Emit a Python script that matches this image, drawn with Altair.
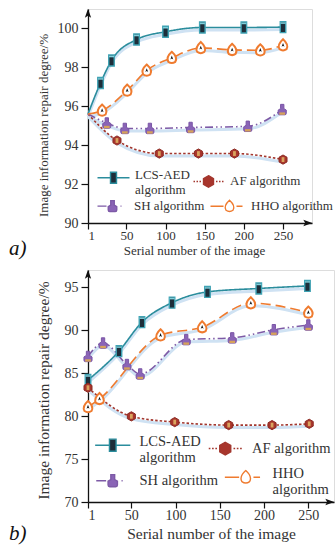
import re
import altair as alt
import pandas as pd

SERIES = ["LCS-AED algorithm", "AF algorithm", "SH algorithm", "HHO algorithm"]
LEGEND_ROW1 = ["LCS-AED algorithm", "AF algorithm"]
LEGEND_ROW2 = ["SH algorithm", "HHO algorithm"]
X_TICKS = [1, 50, 100, 150, 200, 250]

# ---------- panel a) ----------
A_START = [1, 95.6]
A_LCS_X = [17, 31, 63, 100, 147, 200, 250]
A_LCS_Y = [97.2, 98.35, 99.43, 99.83, 100.05, 100.05, 100.07]
A_AF_X = [38, 92, 142, 188, 250]
A_AF_Y = [94.24, 93.57, 93.57, 93.57, 93.26]
A_SH_X = [25, 48, 80, 132, 205, 249]
A_SH_Y = [95.14, 94.86, 94.86, 94.91, 94.97, 95.83]
A_HHO_X = [19, 51, 76, 108, 145, 185, 221, 250]
A_HHO_Y = [95.78, 96.81, 97.84, 98.49, 99.0, 98.9, 98.88, 99.14]
A_Y_TICKS = [90, 92, 94, 96, 98, 100]

# ---------- panel b) ----------
B_LCS_X = [1, 36, 62, 96, 136, 194, 249]
B_LCS_Y = [84.2, 87.56, 90.93, 93.2, 94.45, 94.85, 95.15]
B_AF_X = [1, 50, 99, 160, 209, 251]
B_AF_Y = [83.3, 79.97, 79.3, 78.95, 78.95, 79.1]
B_SH_X = [1, 18, 45, 60, 112, 164, 211, 250]
B_SH_Y = [86.94, 88.5, 86.0, 84.9, 88.9, 89.1, 90.05, 90.6]
B_HHO_X = [1, 14, 83, 130, 185, 250]
B_HHO_Y = [81.05, 82.0, 89.4, 90.35, 93.14, 92.05]
B_Y_TICKS = [70, 75, 80, 85, 90, 95]

FONT = "Liberation Serif"
TXT = "#333333"

STYLE = {
    "LCS-AED algorithm": dict(line="#2b8d9d", dash=[1, 0], fill="#1e2e3a", stroke="#3fa3b4", sw=1.4,
                              path="M-0.55,-1.1L0.55,-1.1L0.55,1.1L-0.55,1.1Z", size=100,
                              inner="#7fd0dc", ipath="M-0.5,-0.15L0.5,-0.15L0.5,0.15L-0.5,0.15Z", isize=100, idy=-4),
    "AF algorithm": dict(line="#a3372e", dash=[2.5, 2], fill="#a8352c", stroke="#8c2a22", sw=1,
                         path="M0,-1.15L1,-0.58L1,0.58L0,1.15L-1,0.58L-1,-0.58Z", size=64,
                         inner="#d9a45e", ipath="M-0.35,-0.6L0.35,-0.6L0.35,0.6L-0.35,0.6Z", isize=64, idy=0),
    "SH algorithm": dict(line="#7d5aa6", dash=[8, 3, 1.5, 3, 1.5, 3], fill="#8a64b6", stroke="#7a55a6", sw=1,
                         path="M-0.35,-1.1L0.35,-1.1L0.35,-0.2L0.85,0.1L0.85,0.8Q0.85,1.1 0.55,1.1L-0.55,1.1Q-0.85,1.1 -0.85,0.8L-0.85,0.1L-0.35,-0.2Z",
                         size=90, inner="#d6a25a", ipath="M-0.6,-0.25L0.6,-0.25L0.6,0.25L-0.6,0.25Z", isize=90, idy=4),
    "HHO algorithm": dict(line="#ef7b2f", dash=[10, 5], fill="#ffffff", stroke="#ef7b2f", sw=2,
                          path="M0,-1.2C0.9,-0.4 1,0.3 0.7,0.8Q0,1.3 -0.7,0.8C-1,0.3 -0.9,-0.4 0,-1.2Z", size=100,
                          inner="#111111", ipath="M0,-0.7L0.45,0.5L0,0.2L-0.45,0.5Z", isize=40, idy=0),
}

LEGEND_PATHS = {
    "LCS-AED algorithm": "M-3.2,0L-0.6,0M0.6,0L3.2,0M-0.6,-1.1L0.6,-1.1L0.6,1.1L-0.6,1.1Z",
    "AF algorithm": "M-3,0L-2.7,0M-2.4,0L-2.1,0M-1.8,0L-1.5,0M1.5,0L1.8,0M2.1,0L2.4,0M2.7,0L3,0M0,-1.15L1,-0.58L1,0.58L0,1.15L-1,0.58L-1,-0.58Z",
    "SH algorithm": "M-3,0L-1.2,0M1.6,0L1.8,0M-0.35,-1.1L0.35,-1.1L0.35,-0.2L0.85,0.1L0.85,0.8Q0.85,1.1 0.55,1.1L-0.55,1.1Q-0.85,1.1 -0.85,0.8L-0.85,0.1L-0.35,-0.2Z",
    "HHO algorithm": "M-3.8,0L-1.2,0M1.4,0L2.6,0M0,-1.2C0.9,-0.4 1,0.3 0.7,0.8Q0,1.3 -0.7,0.8C-1,0.3 -0.9,-0.4 0,-1.2Z",
}


def shift_path(path, dy):
    """Move a symbol path down by dy (unit coordinates)."""
    def rep(m):
        return f"{m.group(1)},{float(m.group(2)) + dy:.3f}"
    return re.sub(r"(-?\d*\.?\d+),(-?\d*\.?\d+)", rep, path)


def build_frame(series_xy, start=None):
    rows = []
    for name, (xs, ys) in series_xy.items():
        if start is not None:
            rows.append({"x": start[0], "y": start[1], "series": name, "marker": False})
        for x, y in zip(xs, ys):
            rows.append({"x": x, "y": y, "series": name, "marker": True})
    return pd.DataFrame(rows)


def panel(df, xmax, ymin, ymax, yticks, width, height, title_fs, legend_fs, sym_size, legs,
          letter, letter_y, xtitle_x, xtitle_y, ytitle_y, multiline_hho, xlab_fs, sym_shift):
    xs = alt.Scale(domain=[1, xmax], nice=False, zero=False)
    ys = alt.Scale(domain=[ymin, ymax], nice=False, zero=False)
    x_axis = alt.Axis(
        values=X_TICKS, title="Serial number of the image", grid=False,
        domainColor="#111", domainWidth=1.3, tickColor="#111", tickSize=6, tickWidth=1.2,
        labelFont=FONT, labelFontSize=xlab_fs, labelColor=TXT, labelPadding=0,
        titleFont=FONT, titleFontSize=title_fs, titleFontWeight="normal", titleColor=TXT,
        titleX=xtitle_x, titleY=xtitle_y, titleBaseline="middle", titleAlign="center")
    y_axis = alt.Axis(
        values=yticks, title="Image information repair degree/%", grid=False,
        domainColor="#111", domainWidth=1.3, tickColor="#111", tickSize=7, tickWidth=1.2,
        labelFont=FONT, labelFontSize=14, labelColor=TXT, labelPadding=3,
        titleFont=FONT, titleFontSize=title_fs, titleFontWeight="normal", titleColor=TXT,
        titleX=-45, titleY=ytitle_y, titleBaseline="middle", titleAlign="center")

    def X():
        return alt.X("x:Q", scale=xs, axis=x_axis)

    def Y():
        return alt.Y("y:Q", scale=ys, axis=y_axis)

    base = alt.Chart(df)
    layers = []

    # pale shadow lines
    layers.append(
        base.mark_line(interpolate="monotone", color="#cfe2f3", strokeWidth=3, yOffset=2.5).encode(
            x=X(), y=Y(), detail="series:N")
    )
    for name in SERIES:
        st = STYLE[name]
        sub = base.transform_filter(alt.datum.series == name)
        layers.append(
            sub.mark_line(interpolate="monotone", color=st["line"], strokeWidth=1.6,
                          strokeDash=st["dash"]).encode(x=X(), y=Y())
        )
    for name in SERIES:
        st = STYLE[name]
        sub = base.transform_filter((alt.datum.series == name) & alt.datum.marker)
        layers.append(
            sub.mark_point(shape=st["path"], filled=True, fill=st["fill"], stroke=st["stroke"],
                           strokeWidth=st["sw"], size=st["size"], opacity=1).encode(x=X(), y=Y())
        )
        layers.append(
            sub.mark_point(shape=st["ipath"], filled=True, fill=st["inner"], strokeWidth=0,
                           size=st["isize"], opacity=1, yOffset=st["idy"]).encode(x=X(), y=Y())
        )

    # arrow heads at the ends of the axes
    arrows = pd.DataFrame({"x": [1, xmax], "y": [ymax, ymin], "kind": ["up", "right"]})
    layers.append(
        alt.Chart(arrows).transform_filter(alt.datum.kind == "up").mark_point(
            shape="M0,-1L0.6,0.7L0,0.35L-0.6,0.7Z", filled=True, color="#111", size=110,
            opacity=1, yOffset=5).encode(x=X(), y=Y())
    )
    layers.append(
        alt.Chart(arrows).transform_filter(alt.datum.kind == "right").mark_point(
            shape="M1,0L-0.7,0.6L-0.35,0L-0.7,-0.6Z", filled=True, color="#111", size=110,
            opacity=1, xOffset=-5).encode(x=X(), y=Y())
    )

    # legends: two rows, each built from series names (no marks drawn)
    two_line = ["LCS-AED algorithm"] + (["HHO algorithm"] if multiline_hho else [])
    expr = "datum.label == 'LCS-AED algorithm' ? ['LCS-AED', 'algorithm'] : "
    if multiline_hho:
        expr += "datum.label == 'HHO algorithm' ? ['HHO', 'algorithm'] : "
    expr += "datum.label"
    for names, (lx, ly, lo, cp) in zip([LEGEND_ROW1, LEGEND_ROW2], legs):
        leg = alt.Legend(title=None, orient="none", legendX=lx, legendY=ly, direction="horizontal",
                         symbolSize=sym_size, symbolStrokeWidth=1.4, symbolOpacity=1,
                         labelFont=FONT, labelFontSize=legend_fs, labelColor=TXT, labelOffset=lo,
                         labelExpr=expr, columnPadding=cp, padding=0, labelLimit=400)
        paths = [shift_path(LEGEND_PATHS[n], sym_shift) if n in two_line else LEGEND_PATHS[n]
                 for n in names]
        ldf = pd.DataFrame({"series": names, "x": [1] * 2, "y": [ymin] * 2})
        layers.append(
            alt.Chart(ldf).transform_filter("false").mark_point(filled=True, opacity=1).encode(
                x=X(), y=Y(),
                shape=alt.Shape("series:N", scale=alt.Scale(domain=names, range=paths), legend=leg),
                fill=alt.Fill("series:N", scale=alt.Scale(domain=names, range=[STYLE[n]["fill"] for n in names]), legend=leg),
                stroke=alt.Stroke("series:N", scale=alt.Scale(domain=names, range=[STYLE[n]["line"] for n in names]), legend=leg),
            )
        )

    # panel letter
    layers.append(
        alt.Chart(pd.DataFrame({"t": [letter]})).mark_text(
            font=FONT, fontSize=21, fontStyle="italic", align="left", baseline="middle", color="#111"
        ).encode(text="t:N", x=alt.value(-79), y=alt.value(letter_y))
    )

    return alt.layer(*layers).resolve_scale(
        shape="independent", fill="independent", stroke="independent"
    ).properties(width=width, height=height)


df_a = build_frame({
    "LCS-AED algorithm": (A_LCS_X, A_LCS_Y),
    "AF algorithm": (A_AF_X, A_AF_Y),
    "SH algorithm": (A_SH_X, A_SH_Y),
    "HHO algorithm": (A_HHO_X, A_HHO_Y),
}, start=A_START)

df_b = build_frame({
    "LCS-AED algorithm": (B_LCS_X, B_LCS_Y),
    "AF algorithm": (B_AF_X, B_AF_Y),
    "SH algorithm": (B_SH_X, B_SH_Y),
    "HHO algorithm": (B_HHO_X, B_HHO_Y),
})

pa = panel(df_a, 287, 90, 101, A_Y_TICKS, 224, 214, 13, 13, 100,
           [(19, 159, 15, 0), (18, 190.5, 15, 2)],
           "a)", 240, 106, 27.5, 116, False, 13, 0.6)
pb = panel(df_b, 279, 70, 97, B_Y_TICKS, 246, 232, 15.5, 14.5, 121,
           [(17.5, 164, 19.5, 3.5), (17.5, 196, 19.5, 3)],
           "b)", 264, 123, 31, 120, True, 14, 0.65)

chart = alt.vconcat(pa, pb, spacing=9).resolve_scale(
    x="independent", y="independent"
).properties(
    padding={"left": 8, "top": 8, "right": 0, "bottom": 0}
).configure_view(stroke=None).configure(background="white")

chart.save("out.html", embed_options={"renderer": "svg", "actions": False})
